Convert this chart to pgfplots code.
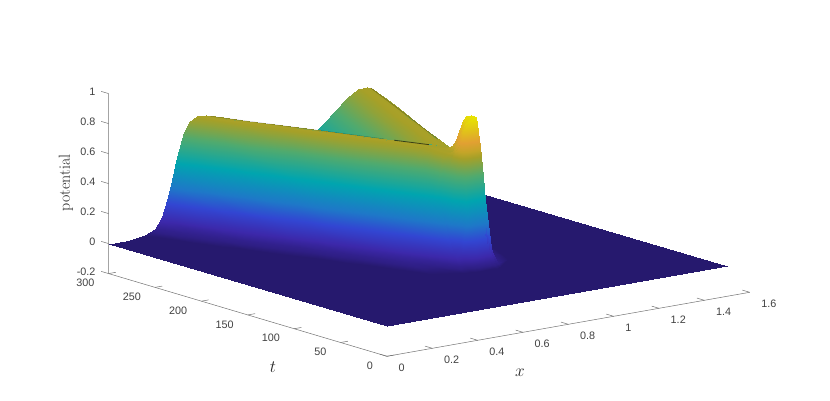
\documentclass[border=0pt]{standalone}
\usepackage{fontspec}
\usepackage{pgfplots}
\pgfplotsset{compat=1.18}
\newfontfamily\tickfont{Liberation Sans}
\definecolor{axgray}{gray}{0.45}
\definecolor{txtgray}{gray}{0.25}
\pgfplotsset{
  colormap={wave}{
    rgb255(0pt)=(38,25,110);
    rgb255(1pt)=(38,25,110);
    rgb255(3pt)=(46,30,132);
    rgb255(9pt)=(60,40,170);
    rgb255(20pt)=(50,70,210);
    rgb255(30pt)=(30,120,200);
    rgb255(46pt)=(0,165,175);
    rgb255(62pt)=(80,170,110);
    rgb255(74pt)=(165,160,40);
    rgb255(78pt)=(195,165,40);
    rgb255(84pt)=(225,160,50);
    rgb255(92pt)=(225,195,25);
    rgb255(100pt)=(232,228,0);
  }
}
\begin{document}
\begin{tikzpicture}
\useasboundingbox (0,0) rectangle (830pt,401pt);
\begin{axis}[
    anchor=origin, at={(387pt,74.7pt)},
    x={(226.7pt,40pt)}, y={(-0.928pt,0.2757pt)}, z={(0pt,150pt)},
    xmin=0, xmax=1.6, ymin=0, ymax=300, zmin=-0.2, zmax=1,
    hide axis, clip=false,
    colormap name=wave, point meta min=0, point meta max=1,
  ]
  % floor
  \addplot3[surf, shader=interp, mesh/rows=2, mesh/cols=2] coordinates {
    (0,0,0) (0,300,0)
    (1.5,0,0) (1.5,300,0)
  };
  % right going wave
  \addplot3[surf, shader=interp, z buffer=sort, mesh/rows=11, mesh/cols=20] coordinates {
    (.79,84,0) (.79,87,.009) (.79,88,.035) (.79,89,.06) (.79,90,.10) (.79,91,.155) (.79,92,.25) (.79,93.5,.367) (.79,95,.46) (.79,97,.56) (.79,104,.64) (.79,110,.695) (.79,117,.725) (.79,124,.74) (.79,134,.745) (.79,144,.743) (.79,165,.71) (.79,201,.61) (.79,237,.51) (.79,293,.35)
    (.85,84,0) (.85,86,.009) (.85,88,.035) (.85,91,.06) (.85,94,.10) (.85,100,.155) (.85,107,.25) (.85,113,.367) (.85,119,.46) (.85,126,.56) (.85,133,.64) (.85,139,.695) (.85,146,.725) (.85,153,.74) (.85,163,.745) (.85,173,.743) (.85,194,.71) (.85,230,.61) (.85,266,.51) (.85,300,.41)
    (.95,85,0) (.95,102,.009) (.95,127,.035) (.95,136,.06) (.95,143,.10) (.95,149,.155) (.95,156,.25) (.95,162,.367) (.95,168,.46) (.95,175,.56) (.95,182,.64) (.95,188,.695) (.95,195,.725) (.95,202,.74) (.95,212,.745) (.95,222,.743) (.95,243,.71) (.95,279,.61) (.95,300,.55) (.95,300,.55)
    (1.05,111,0) (1.05,151,.009) (1.05,176,.035) (1.05,185,.06) (1.05,192,.10) (1.05,198,.155) (1.05,205,.25) (1.05,211,.367) (1.05,217,.46) (1.05,224,.56) (1.05,231,.64) (1.05,237,.695) (1.05,244,.725) (1.05,251,.74) (1.05,261,.745) (1.05,271,.743) (1.05,292,.71) (1.05,300,.69) (1.05,300,.69) (1.05,300,.69)
    (1.1,136,0) (1.1,176,.009) (1.1,201,.035) (1.1,210,.06) (1.1,217,.10) (1.1,223,.155) (1.1,230,.25) (1.1,236,.367) (1.1,242,.46) (1.1,249,.56) (1.1,256,.64) (1.1,262,.695) (1.1,269,.725) (1.1,276,.74) (1.1,286,.745) (1.1,296,.743) (1.1,300,.737) (1.1,300,.737) (1.1,300,.737) (1.1,300,.737)
    (1.141,156,0) (1.141,196,.009) (1.141,221,.035) (1.141,230,.06) (1.141,237,.10) (1.141,243,.155) (1.141,250,.25) (1.141,256,.367) (1.141,262,.46) (1.141,269,.56) (1.141,276,.64) (1.141,282,.695) (1.141,289,.725) (1.141,296,.74) (1.141,300,.742) (1.141,300,.742) (1.141,300,.742) (1.141,300,.742) (1.141,300,.742) (1.141,300,.742)
    (1.18,175,0) (1.18,215,.009) (1.18,240,.035) (1.18,249,.06) (1.18,256,.10) (1.18,262,.155) (1.18,269,.25) (1.18,275,.367) (1.18,281,.46) (1.18,288,.56) (1.18,295,.64) (1.18,300,.687) (1.18,300,.687) (1.18,300,.687) (1.18,300,.687) (1.18,300,.687) (1.18,300,.687) (1.18,300,.687) (1.18,300,.687) (1.18,300,.687)
    (1.22,195,0) (1.22,235,.009) (1.22,260,.035) (1.22,269,.06) (1.22,276,.10) (1.22,282,.155) (1.22,289,.25) (1.22,295,.367) (1.22,300,.445) (1.22,300,.445) (1.22,300,.445) (1.22,300,.445) (1.22,300,.445) (1.22,300,.445) (1.22,300,.445) (1.22,300,.445) (1.22,300,.445) (1.22,300,.445) (1.22,300,.445) (1.22,300,.445)
    (1.26,215,0) (1.26,255,.009) (1.26,280,.035) (1.26,289,.06) (1.26,296,.10) (1.26,300,.135) (1.26,300,.135) (1.26,300,.135) (1.26,300,.135) (1.26,300,.135) (1.26,300,.135) (1.26,300,.135) (1.26,300,.135) (1.26,300,.135) (1.26,300,.135) (1.26,300,.135) (1.26,300,.135) (1.26,300,.135) (1.26,300,.135) (1.26,300,.135)
    (1.3,235,0) (1.3,275,.009) (1.3,300,.035) (1.3,300,.035) (1.3,300,.035) (1.3,300,.035) (1.3,300,.035) (1.3,300,.035) (1.3,300,.035) (1.3,300,.035) (1.3,300,.035) (1.3,300,.035) (1.3,300,.035) (1.3,300,.035) (1.3,300,.035) (1.3,300,.035) (1.3,300,.035) (1.3,300,.035) (1.3,300,.035) (1.3,300,.035)
    (1.36,265,0) (1.36,300,.008) (1.36,300,.008) (1.36,300,.008) (1.36,300,.008) (1.36,300,.008) (1.36,300,.008) (1.36,300,.008) (1.36,300,.008) (1.36,300,.008) (1.36,300,.008) (1.36,300,.008) (1.36,300,.008) (1.36,300,.008) (1.36,300,.008) (1.36,300,.008) (1.36,300,.008) (1.36,300,.008) (1.36,300,.008) (1.36,300,.008)
  };
  % left going wave
  \addplot3[surf, shader=interp, z buffer=sort, mesh/rows=17, mesh/cols=19] coordinates {
    (.096,286,0) (.096,300,.001) (.096,300,.001) (.096,300,.001) (.096,300,.001) (.096,300,.001) (.096,300,.001) (.096,300,.001) (.096,300,.001) (.096,300,.001) (.096,300,.001) (.096,300,.001) (.096,300,.001) (.096,300,.001) (.096,300,.001) (.096,300,.001) (.096,300,.001) (.096,300,.001) (.096,300,.001)
    (.162,256,0) (.162,296,.01) (.162,300,.012) (.162,300,.012) (.162,300,.012) (.162,300,.012) (.162,300,.012) (.162,300,.012) (.162,300,.012) (.162,300,.012) (.162,300,.012) (.162,300,.012) (.162,300,.012) (.162,300,.012) (.162,300,.012) (.162,300,.012) (.162,300,.012) (.162,300,.012) (.162,300,.012)
    (.206,236,0) (.206,276,.01) (.206,300,.045) (.206,300,.045) (.206,300,.045) (.206,300,.045) (.206,300,.045) (.206,300,.045) (.206,300,.045) (.206,300,.045) (.206,300,.045) (.206,300,.045) (.206,300,.045) (.206,300,.045) (.206,300,.045) (.206,300,.045) (.206,300,.045) (.206,300,.045) (.206,300,.045)
    (.2355,223,0) (.2355,263,.01) (.2355,287,.045) (.2355,293,.07) (.2355,299.5,.115) (.2355,300,.115) (.2355,300,.115) (.2355,300,.115) (.2355,300,.115) (.2355,300,.115) (.2355,300,.115) (.2355,300,.115) (.2355,300,.115) (.2355,300,.115) (.2355,300,.115) (.2355,300,.115) (.2355,300,.115) (.2355,300,.115) (.2355,300,.115)
    (.2576,213,0) (.2576,253,.01) (.2576,277,.045) (.2576,283,.07) (.2576,289.5,.115) (.2576,295,.17) (.2576,299.5,.22) (.2576,300,.22) (.2576,300,.22) (.2576,300,.22) (.2576,300,.22) (.2576,300,.22) (.2576,300,.22) (.2576,300,.22) (.2576,300,.22) (.2576,300,.22) (.2576,300,.22) (.2576,300,.22) (.2576,300,.22)
    (.28,203,0) (.28,243,.01) (.28,267,.045) (.28,273,.07) (.28,279.5,.115) (.28,285,.17) (.28,289.5,.22) (.28,295,.285) (.28,300,.347) (.28,300,.347) (.28,300,.347) (.28,300,.347) (.28,300,.347) (.28,300,.347) (.28,300,.347) (.28,300,.347) (.28,300,.347) (.28,300,.347) (.28,300,.347)
    (.302,193,0) (.302,233,.01) (.302,257,.045) (.302,263,.07) (.302,269.5,.115) (.302,275,.17) (.302,279.5,.22) (.302,285,.285) (.302,290,.347) (.302,295,.42) (.302,300,.5) (.302,300,.5) (.302,300,.5) (.302,300,.5) (.302,300,.5) (.302,300,.5) (.302,300,.5) (.302,300,.5) (.302,300,.5)
    (.331,180,0) (.331,220,.01) (.331,244,.045) (.331,250,.07) (.331,256.5,.115) (.331,262,.17) (.331,266.5,.22) (.331,272,.285) (.331,277,.347) (.331,282,.42) (.331,287,.5) (.331,293,.58) (.331,300,.655) (.331,300,.655) (.331,300,.655) (.331,300,.655) (.331,300,.655) (.331,300,.655) (.331,300,.655)
    (.353,170,0) (.353,210,.01) (.353,234,.045) (.353,240,.07) (.353,246.5,.115) (.353,252,.17) (.353,256.5,.22) (.353,262,.285) (.353,267,.347) (.353,272,.42) (.353,277,.5) (.353,283,.58) (.353,290,.655) (.353,300,.717) (.353,300,.717) (.353,300,.717) (.353,300,.717) (.353,300,.717) (.353,300,.717)
    (.39,153,0) (.39,193,.01) (.39,217,.045) (.39,223,.07) (.39,229.5,.115) (.39,235,.17) (.39,239.5,.22) (.39,245,.285) (.39,250,.347) (.39,255,.42) (.39,260,.5) (.39,266,.58) (.39,273,.655) (.39,283,.717) (.39,291,.74) (.39,299,.747) (.39,300,.747) (.39,300,.747) (.39,300,.747)
    (.43,135,0) (.43,175,.01) (.43,199,.045) (.43,205,.07) (.43,211.5,.115) (.43,217,.17) (.43,221.5,.22) (.43,227,.285) (.43,232,.347) (.43,237,.42) (.43,242,.5) (.43,248,.58) (.43,255,.655) (.43,265,.717) (.43,273,.74) (.43,281,.747) (.43,295,.743) (.43,300,.74) (.43,300,.74)
    (.47,117,0) (.47,157,.01) (.47,181,.045) (.47,187,.07) (.47,193.5,.115) (.47,199,.17) (.47,203.5,.22) (.47,209,.285) (.47,214,.347) (.47,219,.42) (.47,224,.5) (.47,230,.58) (.47,237,.655) (.47,247,.717) (.47,255,.74) (.47,263,.747) (.47,277,.743) (.47,292,.73) (.47,300,.72)
    (.5,104,0) (.5,144,.01) (.5,168,.045) (.5,174,.07) (.5,180.5,.115) (.5,186,.17) (.5,190.5,.22) (.5,196,.285) (.5,201,.347) (.5,206,.42) (.5,211,.5) (.5,217,.58) (.5,224,.655) (.5,234,.717) (.5,242,.74) (.5,250,.747) (.5,264,.743) (.5,279,.73) (.5,296,.705)
    (.6,80,0) (.6,99,.01) (.6,123,.045) (.6,129,.07) (.6,135.5,.115) (.6,141,.17) (.6,145.5,.22) (.6,151,.285) (.6,156,.347) (.6,161,.42) (.6,166,.5) (.6,172,.58) (.6,179,.655) (.6,189,.717) (.6,197,.74) (.6,205,.747) (.6,219,.743) (.6,234,.73) (.6,251,.705)
    (.7,84,0) (.7,88,.01) (.7,92,.045) (.7,95,.07) (.7,98,.115) (.7,101,.17) (.7,104,.22) (.7,108,.285) (.7,111,.347) (.7,116,.42) (.7,121,.5) (.7,127,.58) (.7,134,.655) (.7,144,.717) (.7,152,.74) (.7,160,.747) (.7,174,.743) (.7,189,.73) (.7,206,.705)
    (.75,84,0) (.75,87,.01) (.75,89,.045) (.75,90,.07) (.75,91,.115) (.75,92,.17) (.75,93,.22) (.75,94.5,.285) (.75,96,.347) (.75,97.5,.42) (.75,99,.5) (.75,101,.58) (.75,103,.655) (.75,108,.717) (.75,130,.74) (.75,138,.747) (.75,152,.743) (.75,167,.73) (.75,184,.705)
    (.79,84,0) (.79,87,.01) (.79,88,.045) (.79,89,.07) (.79,90,.115) (.79,91,.17) (.79,92,.22) (.79,93,.285) (.79,94.5,.347) (.79,96,.42) (.79,97,.5) (.79,98,.58) (.79,99,.655) (.79,102,.717) (.79,112,.74) (.79,120,.747) (.79,134,.743) (.79,149,.73) (.79,166,.705)
  };
  % spike where the pulse starts
  \addplot3[surf, shader=interp, z buffer=sort, mesh/rows=7, mesh/cols=15] coordinates {
    (.70,84,0) (.70,88,.01) (.70,90,.024) (.70,92,.045) (.70,95,.07) (.70,97,.10) (.70,100,.135) (.70,105,.235) (.70,110,.33) (.70,113.6,.385) (.70,116,.42) (.70,119,.465) (.70,124,.535) (.70,130,.615) (.70,140,.70)
    (.72,84,0) (.72,88,.02) (.72,90,.035) (.72,92,.06) (.72,95,.11) (.72,97,.15) (.72,100,.24) (.72,105,.50) (.72,110,.66) (.72,113.6,.70) (.72,116,.72) (.72,119,.73) (.72,124,.735) (.72,130,.735) (.72,140,.73)
    (.74,84,0) (.74,88,.035) (.74,90,.08) (.74,92,.16) (.74,95,.38) (.74,97,.60) (.74,100,.88) (.74,105,.80) (.74,110,.76) (.74,113.6,.75) (.74,116,.745) (.74,119,.745) (.74,124,.745) (.74,130,.745) (.74,140,.745)
    (.76,84,0) (.76,88,.05) (.76,90,.11) (.76,92,.21) (.76,95,.43) (.76,97,.67) (.76,100,.97) (.76,105,.91) (.76,110,.78) (.76,113.6,.755) (.76,116,.75) (.76,119,.745) (.76,124,.745) (.76,130,.745) (.76,140,.74)
    (.80,84,0) (.80,88,.06) (.80,90,.13) (.80,92,.24) (.80,95,.46) (.80,97,.66) (.80,100,1) (.80,105,1) (.80,110,.985) (.80,113.6,.95) (.80,116,.87) (.80,119,.795) (.80,124,.755) (.80,130,.742) (.80,140,.74)
    (.82,84,0) (.82,88,.055) (.82,90,.12) (.82,92,.23) (.82,95,.447) (.82,97,.60) (.82,100,.80) (.82,105,.74) (.82,110,.68) (.82,113.6,.68) (.82,116,.68) (.82,119,.69) (.82,124,.71) (.82,130,.72) (.82,140,.74)
    (.84,84,0) (.84,88,.03) (.84,90,.05) (.84,92,.08) (.84,95,.12) (.84,97,.15) (.84,100,.20) (.84,105,.31) (.84,110,.40) (.84,113.6,.445) (.84,116,.485) (.84,119,.52) (.84,124,.58) (.84,130,.65) (.84,140,.72)
  };
  % dark rims, where the fine mesh of the surface folds over
  \addplot3[black, opacity=0.25, line width=0.4pt, no marks] coordinates {
    (.43,295,.743) (.5,264,.743) (.6,219,.743) (.7,174,.743)
  };
  \addplot3[black, opacity=0.6, line width=0.8pt, no marks] coordinates {
    (.715,167,.743) (.74,156,.743) (.77,143,.743)
  };
  \addplot3[black, opacity=0.3, line width=0.5pt, no marks] coordinates {
    (.85,153,.74) (.95,202,.74) (1.05,251,.74) (1.1,276,.74) (1.141,296,.74)
  };
  % axis lines, drawn by hand since they sit on three different edges
  \draw[axgray, line width=0.5pt] (axis cs:1.6,0,-0.2) -- (axis cs:0,0,-0.2) -- (axis cs:0,300,-0.2) -- (axis cs:0,300,1);
  \pgfplotsinvokeforeach{0,0.2,0.4,0.6,0.8,1,1.2,1.4,1.6}{
    \draw[axgray, line width=0.5pt] (axis cs:#1,0,-0.2) -- (axis cs:#1,8,-0.2);
    \node[anchor=west, text=txtgray, font=\tickfont\fontsize{10.8}{12}\selectfont, inner sep=0pt, xshift=11.5pt, yshift=-11pt] at (axis cs:#1,0,-0.2) {#1};
  }
  \pgfplotsinvokeforeach{0,50,100,150,200,250,300}{
    \draw[axgray, line width=0.5pt] (axis cs:0,#1,-0.2) -- (axis cs:0.032,#1,-0.2);
    \node[anchor=east, text=txtgray, font=\tickfont\fontsize{10.8}{12}\selectfont, inner sep=0pt, xshift=-14pt, yshift=-9.5pt] at (axis cs:0,#1,-0.2) {#1};
  }
  \pgfplotsinvokeforeach{-0.2,0,0.2,0.4,0.6,0.8,1}{
    \draw[axgray, line width=0.5pt] (axis cs:0,300,#1) -- (axis cs:0,308,#1);
    \node[anchor=east, text=txtgray, font=\tickfont\fontsize{10.8}{12}\selectfont, inner sep=0pt, xshift=-13pt, yshift=2pt] at (axis cs:0,300,#1) {#1};
  }
\end{axis}
\node[text=black!85, font=\fontsize{16}{18}\selectfont] at (273pt,33.5pt) {$t$};
\node[text=black!85, font=\fontsize{16}{18}\selectfont] at (520pt,28pt) {$x$};
\node[text=black!85, font=\fontsize{16}{18}\selectfont, rotate=90] at (66pt,218pt) {potential};
\end{tikzpicture}
\end{document}
